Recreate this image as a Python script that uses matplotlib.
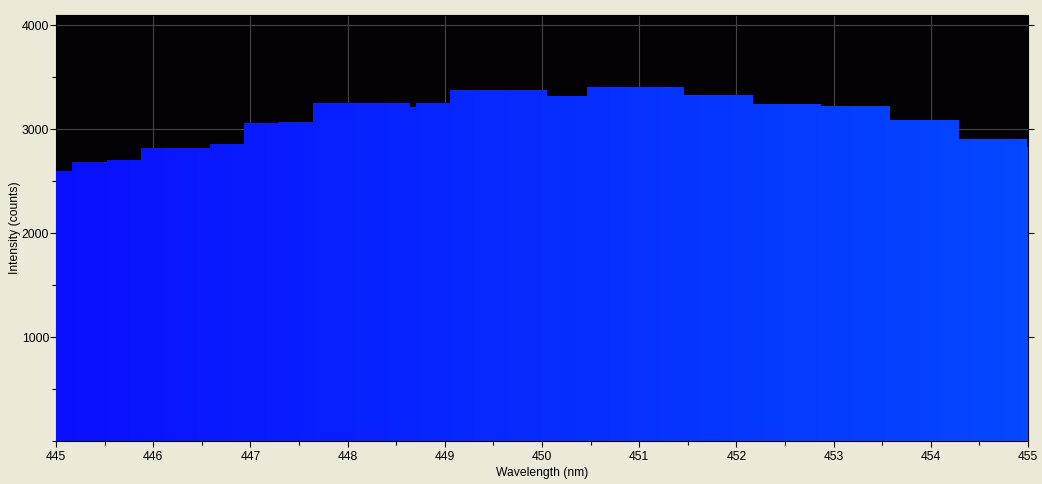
import numpy as np
import matplotlib
matplotlib.use("Agg")
import matplotlib.pyplot as plt
from matplotlib.ticker import MultipleLocator
from matplotlib.colors import LinearSegmentedColormap

# Step edges (nm) and intensity values (counts)
edges = [445.0, 445.165, 445.525, 445.874, 446.584, 446.934, 447.284, 447.644,
         448.642, 448.704, 449.053, 450.051, 450.463, 451.461, 452.171, 452.870,
         453.580, 454.290, 454.990, 455.0]
values = [2602, 2688, 2708, 2823, 2862, 3063, 3073, 3253, 3214, 3253, 3378,
          3320, 3407, 3330, 3243, 3224, 3090, 2907, 2830]
xticks = [445, 446, 447, 448, 449, 450, 451, 452, 453, 454, 455]
yticks = [1000, 2000, 3000, 4000]

plt.rcParams['font.family'] = ['Liberation Sans', 'DejaVu Sans']

fig = plt.figure(figsize=(10.42, 4.84), dpi=100, facecolor='#ECE9D8')
ax = fig.add_axes([56/1042, 1-441/484, (1028-56)/1042, (441-15)/484])
ax.set_facecolor('#040204')

ax.set_xlim(445, 455)
ax.set_ylim(0, 4100)

patch = ax.stairs(values, edges, baseline=0, fill=True,
                  facecolor='none', edgecolor='none', zorder=2)
cmap = LinearSegmentedColormap.from_list('bl', ['#0A10FF', '#0448FF'])
grad = np.linspace(0, 1, 256).reshape(1, -1)
im = ax.imshow(grad, extent=[445, 455, 0, 4100], aspect='auto', cmap=cmap,
               origin='lower', zorder=3, interpolation='bilinear')
im.set_clip_path(patch)

ax.set_xticks(xticks)
ax.set_yticks(yticks)
ax.xaxis.set_minor_locator(MultipleLocator(0.5))
ax.yaxis.set_minor_locator(MultipleLocator(500))
ax.grid(True, which='major', color='#444444', linewidth=0.8, zorder=1)
ax.set_axisbelow(True)

ax.tick_params(axis='both', which='major', direction='out', length=4,
               width=0.8, color='black', labelsize=8.7, labelcolor='black', pad=1)
ax.tick_params(axis='x', which='major', pad=3)
ax.tick_params(axis='both', which='minor', direction='out', length=3,
               width=0.8, color='black')
ax.tick_params(axis='y', which='major', right=True, labelright=False)

for s in ax.spines.values():
    s.set_color('black')
    s.set_linewidth(0.8)

ax.set_xlabel('Wavelength (nm)', fontsize=8.7, labelpad=3)
ax.set_ylabel('Intensity (counts)', fontsize=8.7)
ax.yaxis.set_label_coords(-0.0355, 0.5)

fig.savefig('out.png', dpi=100, facecolor=fig.get_facecolor())
